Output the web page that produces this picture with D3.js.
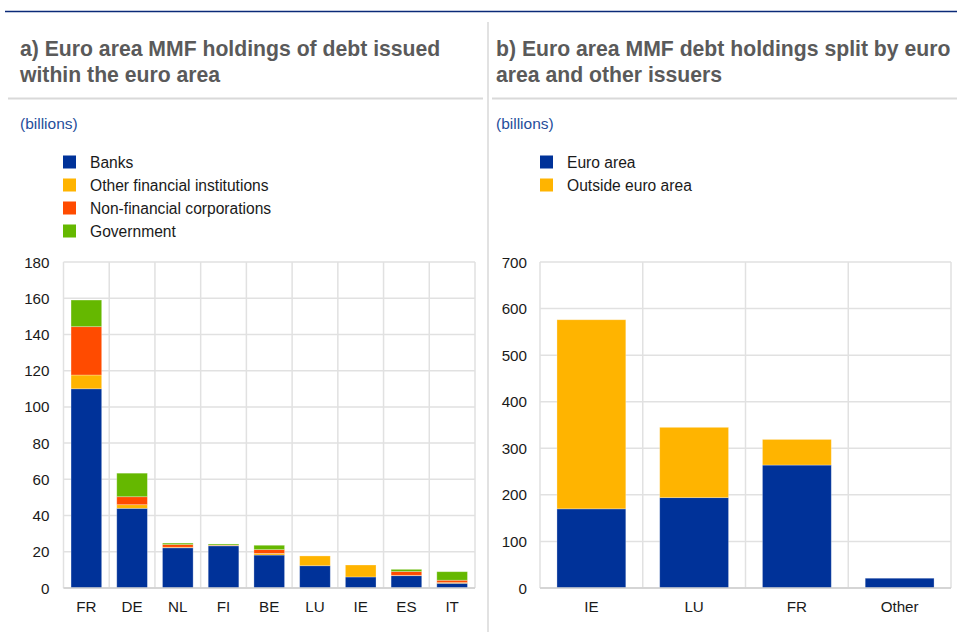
<!DOCTYPE html>
<html>
<head>
<meta charset="utf-8">
<script src="https://cdn.jsdelivr.net/npm/d3@7"></script>
<style>
  html, body { margin: 0; padding: 0; background: #fff; }
  svg { display: block; font-family: Arial, "Liberation Sans", sans-serif; }
</style>
</head>
<body>
<svg id="chart" width="957" height="632"></svg>
<script>
// Panel a: holdings of debt issued within the euro area, by issuer country (EUR billions)
const countriesA = ["FR", "DE", "NL", "FI", "BE", "LU", "IE", "ES", "IT"];
const banks      = [110, 44, 22.2, 23.3, 18.2, 12.3, 6.1, 6.8, 2.6];
const otherFin   = [7.6, 2, 0.3, 0.2, 0.9, 5.4, 6.6, 0.2, 0.4];
const nonFinCorp = [26.7, 4.4, 1.5, 0.2, 2.1, 0, 0, 2.1, 1.3];
const government = [14.7, 13, 0.8, 0.6, 2.4, 0, 0, 1.2, 4.7];
const seriesA = ["Banks", "Other financial institutions", "Non-financial corporations", "Government"];
const ticksA = [0, 20, 40, 60, 80, 100, 120, 140, 160, 180];

// Panel b: debt holdings by fund domicile, split by issuer location (EUR billions)
const domicilesB = ["IE", "LU", "FR", "Other"];
const euroArea    = [170, 194, 264, 21];
const outsideEuro = [406, 151, 55, 0];
const seriesB = ["Euro area", "Outside euro area"];
const ticksB = [0, 100, 200, 300, 400, 500, 600, 700];

const colors = ["#003299", "#ffb400", "#ff4b00", "#65b800"];
const gridColor = "#e1e1e1";
const titleColor = "#5a5a5a";
const unitColor = "#1f4e9b";

const svg = d3.select("#chart");

// Frame: top rule, panel divider, header separators
svg.append("line").attr("x1", 5).attr("x2", 957).attr("y1", 11.5).attr("y2", 11.5)
  .attr("stroke", "#0b2a78").attr("stroke-width", 1.5);
svg.append("line").attr("x1", 488).attr("x2", 488).attr("y1", 22).attr("y2", 632)
  .attr("stroke", "#d9d9d9").attr("stroke-width", 1.5);
svg.append("line").attr("x1", 8).attr("x2", 483).attr("y1", 98.5).attr("y2", 98.5)
  .attr("stroke", "#d9d9d9").attr("stroke-width", 2);
svg.append("line").attr("x1", 492).attr("x2", 957).attr("y1", 98.5).attr("y2", 98.5)
  .attr("stroke", "#d9d9d9").attr("stroke-width", 2);

function header(x, lines) {
  const t = svg.append("text").attr("x", x).attr("y", 56)
    .attr("fill", titleColor).attr("font-size", 21.2).attr("font-weight", "bold");
  lines.forEach((l, i) => t.append("tspan").attr("x", x).attr("dy", i === 0 ? 0 : 26).text(l));
  svg.append("text").attr("x", x).attr("y", 129).attr("fill", unitColor)
    .attr("font-size", 15.5).text("(billions)");
}
header(20, ["a) Euro area MMF holdings of debt issued", "within the euro area"]);
header(496, ["b) Euro area MMF debt holdings split by euro", "area and other issuers"]);

function legend(x, y0, names) {
  names.forEach((n, i) => {
    const y = y0 + i * 23;
    svg.append("rect").attr("x", x).attr("y", y - 6.5).attr("width", 13).attr("height", 13)
      .attr("fill", colors[i]);
    svg.append("text").attr("x", x + 27).attr("y", y + 5.5).attr("font-size", 15.6)
      .attr("fill", "#1a1a1a").text(n);
  });
}
legend(63, 162, seriesA);
legend(540, 162, seriesB);

function panel(opts) {
  const { cats, layers, ticks, domainMax, x0, x1, labelX } = opts;
  const yTop = 262, yBot = 588;
  const x = d3.scaleBand().domain(cats).range([x0, x1]).paddingInner(0.33).paddingOuter(0.165);
  const y = d3.scaleLinear().domain([0, domainMax]).range([yBot, yTop]);
  const g = svg.append("g");

  // horizontal gridlines
  g.selectAll("line.h").data(ticks).join("line")
    .attr("x1", x0).attr("x2", x1)
    .attr("y1", d => y(d)).attr("y2", d => y(d))
    .attr("stroke", gridColor).attr("stroke-width", 1.5);
  // vertical gridlines at band boundaries
  const step = x.step();
  const bounds = d3.range(cats.length + 1).map(i => x0 + i * step);
  g.selectAll("line.v").data(bounds).join("line")
    .attr("x1", d => d).attr("x2", d => d)
    .attr("y1", yTop).attr("y2", yBot)
    .attr("stroke", gridColor).attr("stroke-width", 1.5);

  // y tick labels
  g.selectAll("text.yt").data(ticks).join("text")
    .attr("x", labelX).attr("y", d => y(d) + 5.5)
    .attr("text-anchor", "end").attr("font-size", 15.2).attr("fill", "#1a1a1a")
    .text(d => d);

  // stacked bars
  const rows = cats.map((c, i) => {
    const r = { cat: c };
    layers.forEach((arr, k) => r["s" + k] = arr[i]);
    return r;
  });
  const stack = d3.stack().keys(layers.map((_, k) => "s" + k))(rows);
  stack.forEach((layer, k) => {
    g.selectAll(null).data(layer.filter(d => d[1] - d[0] > 0)).join("rect")
      .attr("x", d => x(d.data.cat))
      .attr("width", x.bandwidth())
      .attr("y", d => y(d[1]))
      .attr("height", d => y(d[0]) - y(d[1]))
      .attr("fill", colors[k])
      .attr("stroke", "rgba(255,255,255,0.35)").attr("stroke-width", 0.8);
  });

  // x axis baseline and labels
  g.append("line").attr("x1", x0).attr("x2", x1).attr("y1", yBot).attr("y2", yBot)
    .attr("stroke", "#cfcfcf").attr("stroke-width", 1.5);
  g.selectAll("text.xt").data(cats).join("text")
    .attr("x", d => x(d) + x.bandwidth() / 2).attr("y", 611.5)
    .attr("text-anchor", "middle").attr("font-size", 15.2).attr("fill", "#1a1a1a")
    .text(d => d);
}

panel({ cats: countriesA, layers: [banks, otherFin, nonFinCorp, government],
        ticks: ticksA, domainMax: 180, x0: 63.5, x1: 475, labelX: 49.5 });
panel({ cats: domicilesB, layers: [euroArea, outsideEuro],
        ticks: ticksB, domainMax: 700, x0: 540, x1: 951, labelX: 527 });
</script>
</body>
</html>
